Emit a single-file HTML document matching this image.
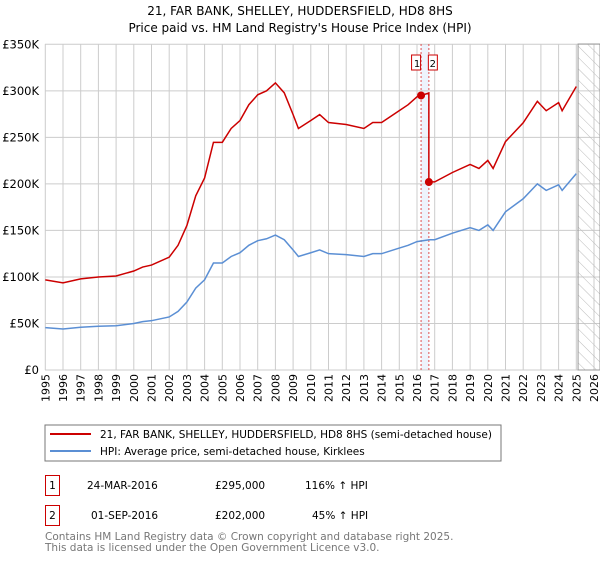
<!DOCTYPE html>
<html><head><meta charset="utf-8"><style>
body{margin:0;background:#fff;font-family:"DejaVu Sans","Liberation Sans",sans-serif;}
svg text{font-family:"DejaVu Sans","Liberation Sans",sans-serif;}
</style></head><body>
<svg id="c" width="600" height="560" xmlns="http://www.w3.org/2000/svg">
<defs><pattern id="hatch" width="8" height="8" patternUnits="userSpaceOnUse" patternTransform="rotate(-45)"><line x1="0" y1="0" x2="0" y2="8" stroke="#bbb" stroke-width="1"/></pattern></defs>
<text x="300" y="15" text-anchor="middle" font-size="12">21, FAR BANK, SHELLEY, HUDDERSFIELD, HD8 8HS</text>
<text x="300" y="32" text-anchor="middle" font-size="12">Price paid vs. HM Land Registry's House Price Index (HPI)</text>
<g id="grid"></g><g id="axes"></g><g id="series"></g>
<rect x="45" y="425" width="456" height="36" fill="#fff" stroke="#777"/>
<line x1="50" y1="434" x2="91" y2="434" stroke="#cc0000" stroke-width="2"/>
<text x="100" y="438" font-size="10.5">21, FAR BANK, SHELLEY, HUDDERSFIELD, HD8 8HS (semi-detached house)</text>
<line x1="50" y1="451" x2="91" y2="451" stroke="#5b8fd4" stroke-width="2"/>
<text x="100" y="455" font-size="10.5">HPI: Average price, semi-detached house, Kirklees</text>
<g font-size="10.5">
<rect x="45.5" y="475.5" width="14" height="20" fill="#fff" stroke="#cc0000"/><text x="52.5" y="489" text-anchor="middle">1</text>
<text x="87" y="489">24-MAR-2016</text><text x="215" y="489">£295,000</text><text x="305" y="489">116% ↑ HPI</text>
<rect x="45.5" y="505.5" width="14" height="20" fill="#fff" stroke="#cc0000"/><text x="52.5" y="519" text-anchor="middle">2</text>
<text x="91" y="519">01-SEP-2016</text><text x="215" y="519">£202,000</text><text x="312" y="519">45% ↑ HPI</text>
</g>
<text x="45" y="540" font-size="10.5" fill="#777">Contains HM Land Registry data © Crown copyright and database right 2025.</text>
<text x="45" y="551" font-size="10.5" fill="#777">This data is licensed under the Open Government Licence v3.0.</text>
</svg>
<script>
const hpiYears=[1995,1996,1997,1998,1999,2000,2000.5,2001,2002,2002.5,2003,2003.5,2004,2004.5,2005,2005.5,2006,2006.5,2007,2007.5,2008,2008.5,2009,2009.3,2010,2010.5,2011,2012,2013,2013.5,2014,2015,2015.5,2016,2016.7,2017,2018,2019,2019.5,2020,2020.3,2021,2022,2022.8,2023.3,2024,2024.2,2025];
const hpiValues=[45.5,44,46,47,47.5,50,52,53,57,63,73,88,97,115,115,122,126,134,139,141,145,140,129,122,126,129,125,124,122,125,125,131,134,138,140,140,147,153,150,156,150,170,184,200,193,199,193,211];
const saleYears=[2016.23,2016.67];
const salePrices=[295,202];
const yTicks=[0,50,100,150,200,250,300,350];
const yTickLabels=["£0","£50K","£100K","£150K","£200K","£250K","£300K","£350K"];
const xTickYears=[];for(let y=1995;y<=2026;y++)xTickYears.push(y);
const X=y=>45.3+(y-1995)*17.7, Y=v=>370-v*(325.7/350);
const NS="http://www.w3.org/2000/svg";
function mk(t,a,p){const e=document.createElementNS(NS,t);for(const k in a)e.setAttribute(k,a[k]);p.appendChild(e);return e;}
const grid=document.getElementById('grid'),axes=document.getElementById('axes'),ser=document.getElementById('series');
mk('rect',{x:X(2016.23),y:44,width:X(2016.67)-X(2016.23),height:326,fill:'#eef3fc'},grid);
xTickYears.forEach(y=>{const l=mk('line',{x1:X(y),y1:44,x2:X(y),y2:370,stroke:'#ccc'},grid);


const t=mk('text',{x:0,y:0,'font-size':11,'text-anchor':'end',transform:`translate(${X(y)+4},374) rotate(-90)`},axes);
t.textContent=y;

});
yTicks.forEach((v,i)=>{const l=mk('line',{x1:45,y1:Y(v),x2:600,y2:Y(v),stroke:'#ccc'},grid);


const t=mk('text',{x:39,y:Y(v)+4,'font-size':11.5,'text-anchor':'end'},axes);
t.textContent=yTickLabels[i];

});
const h=mk('rect',{x:X(2025.1),y:44,width:600-X(2025.1),height:326,fill:'url(#hatch)',stroke:'#999'},grid);


function hpiAt(t){for(let i=0;i<hpiYears.length-1;i++){if(t<=hpiYears[i+1]){const f=(t-hpiYears[i])/(hpiYears[i+1]-hpiYears[i]);return hpiValues[i]+f*(hpiValues[i+1]-hpiValues[i]);}}return hpiValues[hpiValues.length-1];}
saleYears.forEach(s=>{const l=mk('line',{x1:X(s),y1:44,x2:X(s),y2:370,stroke:'#e05050','stroke-dasharray':'2,2'},ser);

});
const hp=hpiYears.map((t,i)=>X(t)+','+Y(hpiValues[i])).join(' ');
const hl=mk('polyline',{points:hp,fill:'none',stroke:'#5b8fd4','stroke-width':1.5},ser);


const ratios=saleYears.map((s,i)=>salePrices[i]/hpiAt(s));
const pts=[];
hpiYears.forEach((t,i)=>{if(t<saleYears[1]){if(t>saleYears[0]&&pts.length&&!pts.done0){pts.push([saleYears[0],salePrices[0]]);pts.done0=1;}pts.push([t,hpiValues[i]*ratios[0]]);}});
pts.push([saleYears[1],hpiAt(saleYears[1])*ratios[0]]);
pts.push([saleYears[1],salePrices[1]]);
hpiYears.forEach((t,i)=>{if(t>saleYears[1])pts.push([t,hpiValues[i]*ratios[1]]);});
const rl=mk('polyline',{points:pts.map(p=>X(p[0])+','+Y(p[1])).join(' '),fill:'none',stroke:'#cc0000','stroke-width':1.5},ser);


saleYears.forEach((s,i)=>{const c=mk('circle',{cx:X(s),cy:Y(salePrices[i]),r:4,fill:'#cc0000'},ser);


const r=mk('rect',{x:X(s)-(i==0?9:0)-0.5,y:55,width:9,height:15,fill:'#fff',stroke:'#cc0000'},ser);


const t=mk('text',{x:X(s)+(i==0?-4:4),y:67,'font-size':10,'text-anchor':'middle'},ser);
t.textContent=i+1;

});
</script>
</body></html>
